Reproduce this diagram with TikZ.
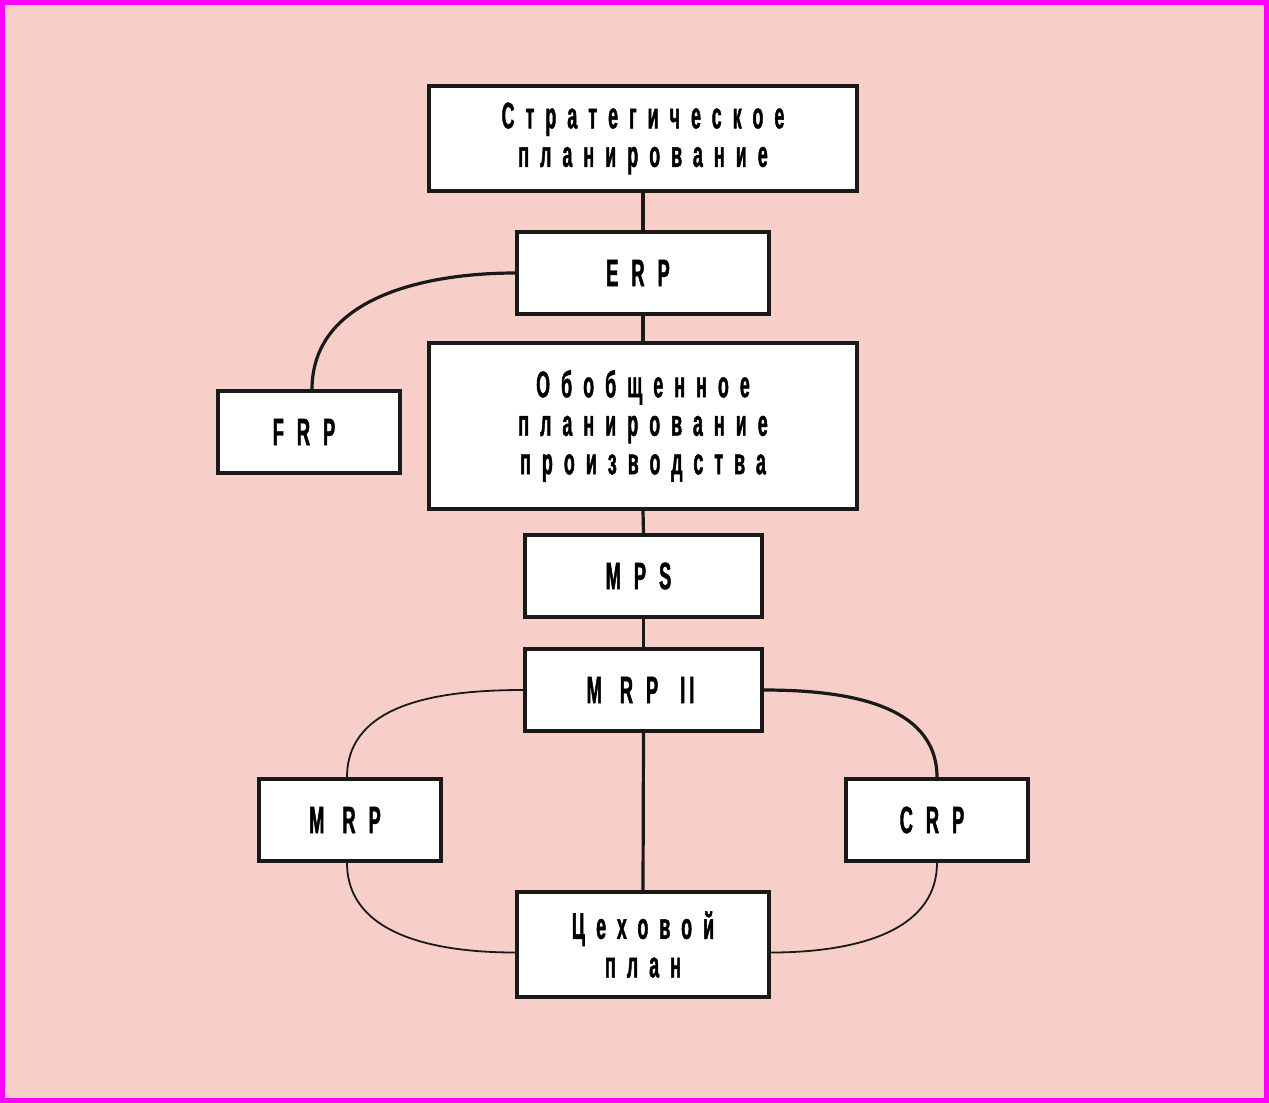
\documentclass[tikz,border=0pt]{standalone}
\usepackage{fontspec}
\newfontfamily\lab[FakeStretch=0.48,LetterSpace=30,FakeBold=1.2]{Liberation Sans Bold}
\newfontfamily\lat[FakeStretch=0.48,FakeBold=1.2]{Liberation Sans Bold}
\newcommand{\gp}{\hspace{13pt}}
\definecolor{bgpink}{HTML}{F8CEC9}
\definecolor{frame}{HTML}{FF00FF}
\begin{document}
\begin{tikzpicture}[x=1pt,y=-1pt,
  box/.style={draw=black!90, line width=3.2pt, fill=white, inner sep=0pt, align=center,
    font=\lab\fontsize{37}{38.5}\selectfont},
  latbox/.style={box, font=\lat\fontsize{38}{38.5}\selectfont},
  vline/.style={draw=black!90, line width=3.2pt},
  heavycurve/.style={draw=black!90, line width=3.2pt},
  lightcurve/.style={draw=black!90, line width=1.8pt}]
\fill[frame] (0,0) rectangle (1269,1103);
\fill[bgpink] (5,5) rectangle (1264,1098);
\useasboundingbox (0,0) rectangle (1269,1103);
\node[box, minimum width=428pt, minimum height=105pt] (strat) at (643,138.5) {Стратегическое\\планирование};
\node[latbox, minimum width=252pt, minimum height=82pt] (erp) at (643,273) {\hspace{-10pt}E\gp R\gp P};
\node[box, minimum width=428pt, minimum height=166pt] (gen) at (643,426) {Обобщенное\\планирование\\производства};
\node[latbox, minimum width=182pt, minimum height=82pt] (frp) at (309,432) {\hspace{-10pt}F\gp R\gp P};
\node[latbox, minimum width=237pt, minimum height=82pt] (mps) at (643.5,576) {\hspace{-10pt}M\gp P\gp S};
\node[latbox, minimum width=237pt, minimum height=82pt] (mrp2) at (643.5,690) {\hspace{-6pt}M\hspace{18pt}R\gp P\hspace{22pt}I\hspace{4pt}I};
\node[latbox, minimum width=182pt, minimum height=82pt] (mrp) at (350,820) {\hspace{-10pt}M\hspace{18pt}R\gp P};
\node[latbox, minimum width=182pt, minimum height=82pt] (crp) at (937,820) {\hspace{-10pt}C\gp R\gp P};
\node[box, minimum width=252pt, minimum height=105pt] (shop) at (643,944.5) {Цеховой\\план};
% connectors
\draw[vline] (strat.south) -- (erp.north);
\draw[vline] (erp.south) -- (gen.north);
\draw[vline] (gen.south) -- (mps.north);
\draw[vline] (mps.south) -- (mrp2.north);
\draw[vline] (mrp2.south) -- (shop.north);
\draw[heavycurve] (erp.west) to[out=180,in=90] ([xshift=3pt]frp.north);
\draw[lightcurve] (mrp2.west) to[out=180,in=90] ([xshift=-3pt]mrp.north);
\draw[heavycurve] (mrp2.east) to[out=0,in=90] (crp.north);
\draw[lightcurve] ([xshift=-3pt]mrp.south) to[out=-90,in=180] ([yshift=-8pt]shop.west);
\draw[lightcurve] (crp.south) to[out=-90,in=0] ([yshift=-8pt]shop.east);
\end{tikzpicture}
\end{document}
